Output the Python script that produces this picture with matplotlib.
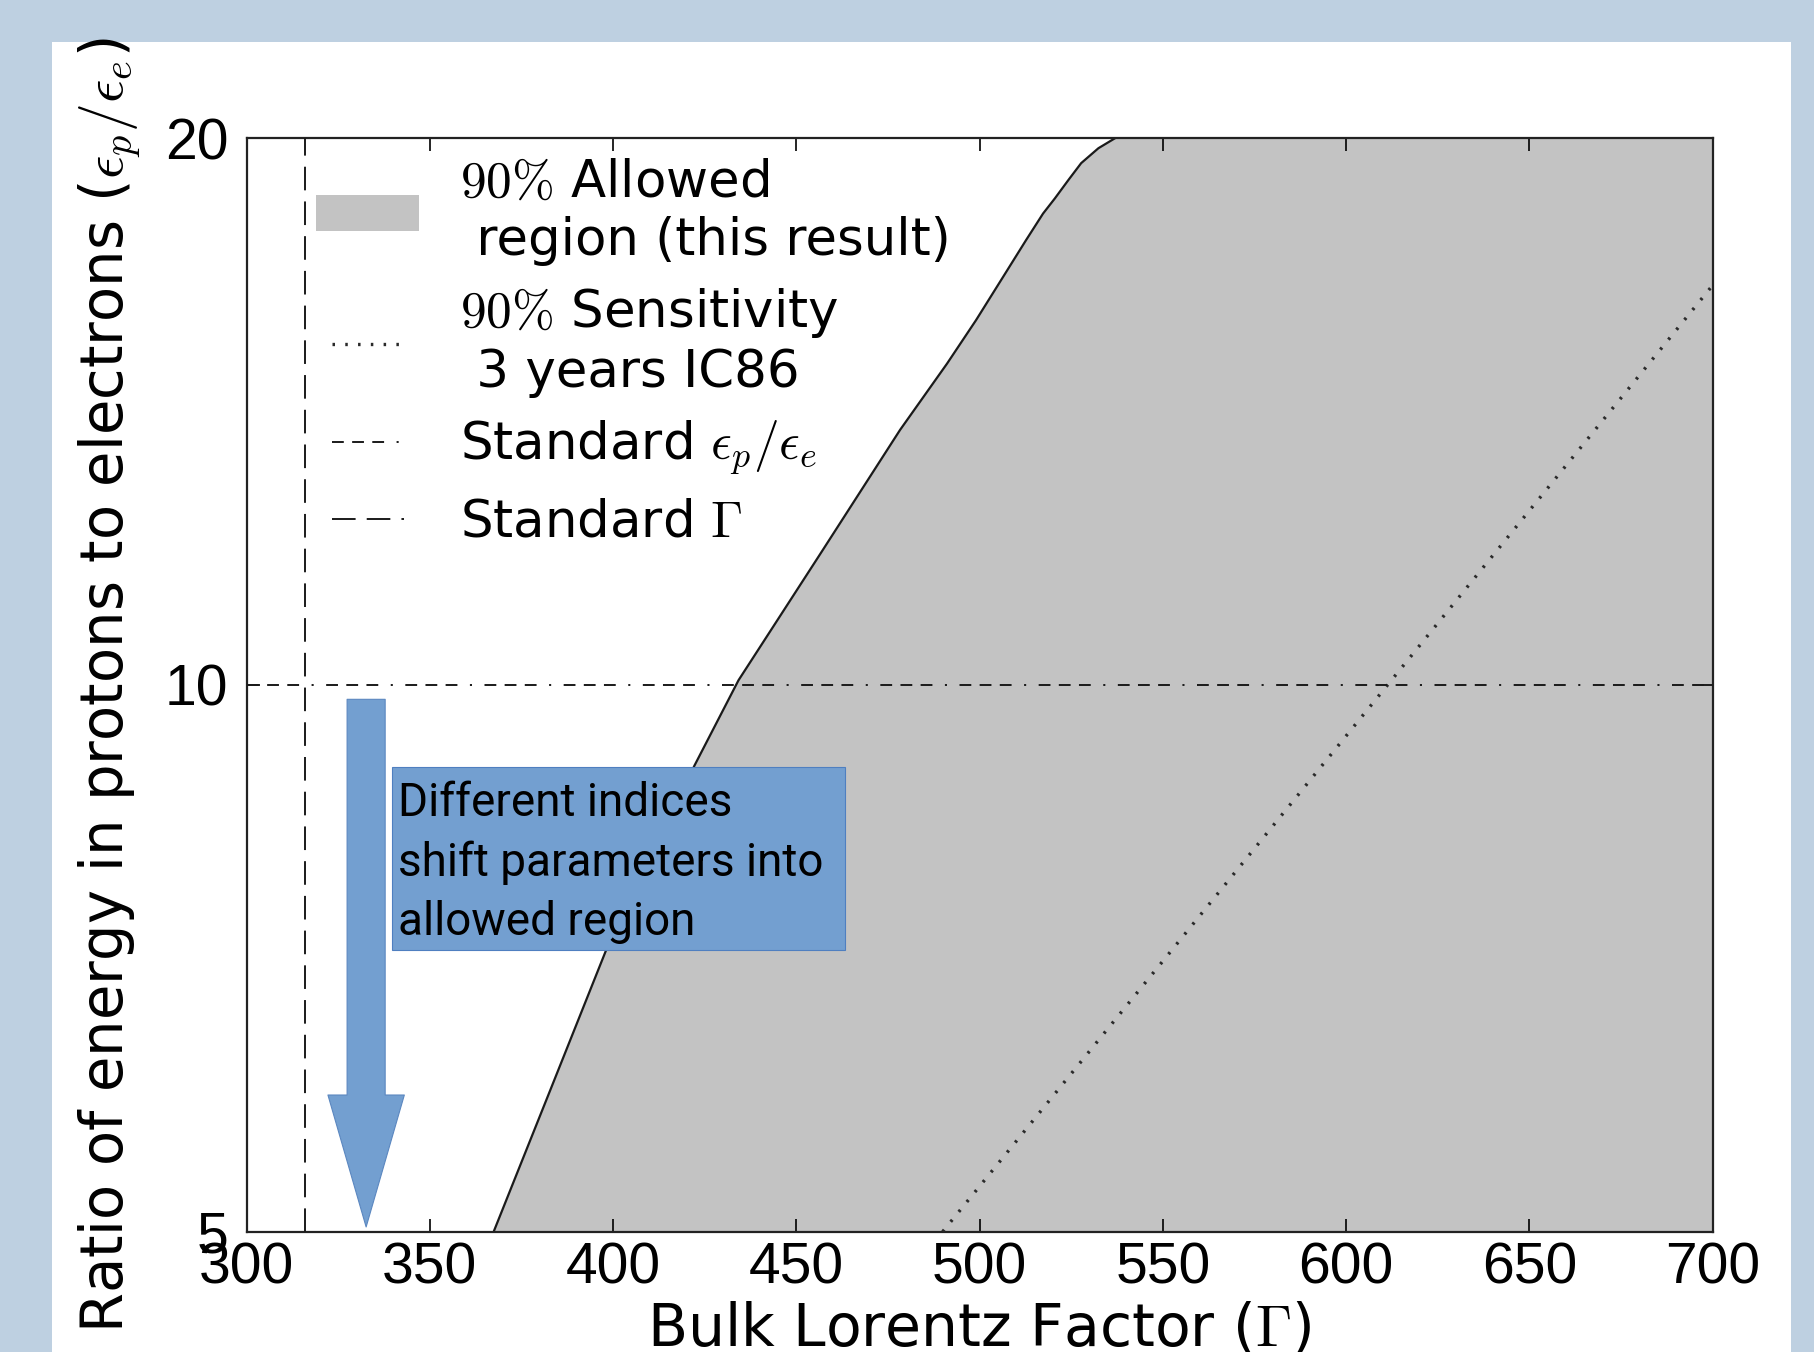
import matplotlib
matplotlib.use('Agg')
import matplotlib.pyplot as plt
from matplotlib.patches import Rectangle, FancyArrowPatch, ArrowStyle
from matplotlib.ticker import NullLocator

plt.rcParams['font.family'] = 'DejaVu Sans'
plt.rcParams['mathtext.fontset'] = 'cm'
plt.rcParams['lines.scale_dashes'] = False

# Boundary of the 90% allowed region (Gamma, eps_p/eps_e)
gamma_allowed = [367.4, 382.8, 398.2, 410.2, 422.2, 434.2, 456.3, 478.3, 491.1,
                 499.0, 506.9, 512.6, 517.3, 520.5, 524.3, 527.7, 532.4, 536.9]
ratio_allowed = [5.0, 5.98, 7.155, 8.04, 9.03, 10.06, 11.79, 13.82, 15.03,
                 15.88, 16.84, 17.57, 18.18, 18.53, 18.98, 19.38, 19.75, 20.0]

# 90% sensitivity, 3 years IC86
gamma_sens = [489.9, 611.3, 700.0]
ratio_sens = [5.0, 10.0, 16.6]

# Standard model values
std_ratio = 10
std_gamma = 316

x_ticks = [300, 350, 400, 450, 500, 550, 600, 650, 700]
y_ticks = [5, 10, 20]

legend_labels = ['$90\\%$ Allowed\n region (this result)',
                 '$90\\%$ Sensitivity\n 3 years IC86',
                 r'Standard $\epsilon_p/\epsilon_e$',
                 r'Standard $\Gamma$']

note_text = 'Different indices\nshift parameters into\nallowed region'
note_box = (339.6, 463.3, 7.15, 9.01)   # x0, x1, y0, y1 in data units
arrow_gamma = 332.6
arrow_top, arrow_tip = 9.82, 5.03

fig = plt.figure(figsize=(18.15, 13.52), dpi=100)
fig.patch.set_facecolor('#BED0E1')
# white slide panel behind the axes
fig.patches.append(Rectangle((0.0287, 0.0), 0.9581, 0.9689, transform=fig.transFigure,
                             facecolor='white', edgecolor='none', zorder=-10))

ax = fig.add_axes([0.1359, 0.0890, 0.8077, 0.8087])
ax.set_yscale('log')
ax.set_xlim(300, 700)
ax.set_ylim(5, 20)

allowed = ax.fill_betweenx(ratio_allowed, gamma_allowed, 700, facecolor='#C3C3C3',
                           edgecolor='none', zorder=1)
ax.plot(gamma_allowed, ratio_allowed, color='#1a1a1a', lw=1.6, zorder=2)

sens, = ax.plot(gamma_sens, ratio_sens, color='#2a2a2a', lw=2.4,
                linestyle=(0, (1.8, 7.4)), zorder=3)
std_r = ax.axhline(std_ratio, color='#1a1a1a', lw=1.4,
                   linestyle=(0, (8.5, 6, 8.5, 6, 8.5, 9, 1.5, 9)), zorder=3)
std_g = ax.axvline(std_gamma, color='#1a1a1a', lw=1.4,
                   linestyle=(0, (17, 8)), zorder=3)

ax.set_xticks(x_ticks)
ax.set_xticklabels([str(v) for v in x_ticks], fontfamily='Liberation Sans', fontsize=41)
ax.set_yticks(y_ticks)
ax.set_yticklabels([str(v) for v in y_ticks], fontfamily='Liberation Sans', fontsize=41)
ax.yaxis.set_minor_locator(NullLocator())
ax.tick_params(axis='x', direction='in', top=True, length=9.5, width=1.2, pad=7)
ax.tick_params(axis='y', direction='in', right=True, length=9.5, width=1.2, pad=13)
for s in ax.spines.values():
    s.set_linewidth(1.6)
    s.set_color('#222222')

ax.set_xlabel(r'Bulk Lorentz Factor ($\Gamma$)', fontsize=42, labelpad=4)
ax.set_ylabel(r'Ratio of energy in protons to electrons ($\epsilon_p/\epsilon_e$)',
              fontsize=41.5, labelpad=15)

ax.legend([allowed, sens, std_r, std_g], legend_labels, loc='upper left',
          bbox_to_anchor=(0.0476, 0.982), borderpad=0, borderaxespad=0,
          handlelength=2.0, handletextpad=0.8, labelspacing=0.4, numpoints=2,
          frameon=False, fontsize=37)

# note box and arrow
ax.add_patch(Rectangle((note_box[0], note_box[2]), note_box[1] - note_box[0],
                       note_box[3] - note_box[2], facecolor='#739FD0',
                       edgecolor='#4F7FC0', lw=0.8, zorder=5))
ax.text(note_box[0] + 1.6, 8.85, note_text, fontfamily='Roboto', fontsize=33,
        va='top', ha='left', linespacing=1.43, color='black', zorder=6)
ax.add_patch(FancyArrowPatch((arrow_gamma, arrow_top), (arrow_gamma, arrow_tip),
                             arrowstyle=ArrowStyle.Simple(head_length=95, head_width=55,
                                                          tail_width=27.4),
                             mutation_scale=1, shrinkA=0, shrinkB=0,
                             facecolor='#739FD0', edgecolor='#5B87C0', lw=0.8, zorder=5))

fig.savefig('out.png', dpi=100, facecolor=fig.get_facecolor())
